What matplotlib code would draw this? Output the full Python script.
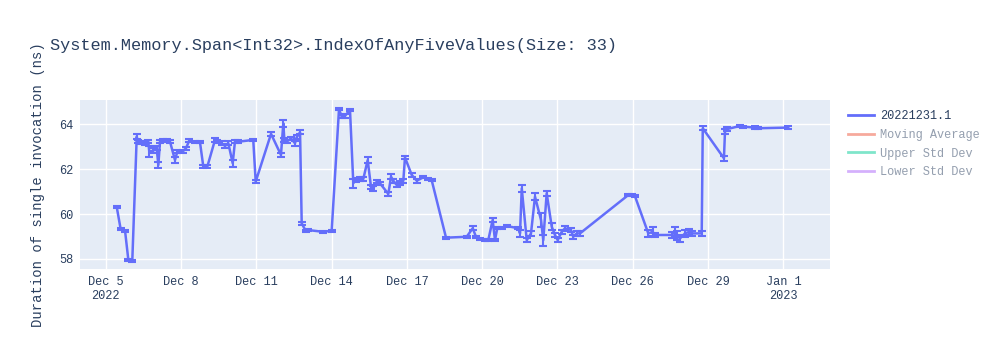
import numpy as np
import pandas as pd
import matplotlib
matplotlib.use("Agg")
import matplotlib.pyplot as plt
from matplotlib.lines import Line2D

plt.rcParams['font.family'] = ['Liberation Mono', 'DejaVu Sans Mono']

# benchmark runs
times = [
    "2022-12-05 10:30", "2022-12-05 14:20", "2022-12-05 18:30", "2022-12-05 21:40", "2022-12-06 01:25",
    "2022-12-06 05:40", "2022-12-06 06:35", "2022-12-06 09:30", "2022-12-06 13:35", "2022-12-06 16:45",
    "2022-12-06 17:40", "2022-12-06 21:30", "2022-12-07 00:45", "2022-12-07 02:20", "2022-12-07 03:55",
    "2022-12-07 07:05", "2022-12-07 10:20", "2022-12-07 13:30", "2022-12-07 18:15", "2022-12-07 20:30",
    "2022-12-08 01:35", "2022-12-08 04:45", "2022-12-08 07:55", "2022-12-08 13:25", "2022-12-08 18:10",
    "2022-12-08 21:20", "2022-12-09 01:10", "2022-12-09 08:30", "2022-12-09 10:40", "2022-12-09 14:55",
    "2022-12-09 18:05", "2022-12-09 21:15", "2022-12-10 01:25", "2022-12-10 03:35", "2022-12-10 06:50",
    "2022-12-10 21:05", "2022-12-10 23:25", "2022-12-11 14:05", "2022-12-11 23:35", "2022-12-12 01:50",
    "2022-12-12 02:50", "2022-12-12 05:05", "2022-12-12 09:10", "2022-12-12 13:00", "2022-12-12 14:35",
    "2022-12-12 17:50", "2022-12-12 19:25", "2022-12-12 23:10", "2022-12-13 01:40", "2022-12-13 16:05",
    "2022-12-14 00:05", "2022-12-14 07:05", "2022-12-14 09:40", "2022-12-14 12:50", "2022-12-14 17:35",
    "2022-12-14 20:45", "2022-12-14 23:05", "2022-12-15 03:10", "2022-12-15 06:20", "2022-12-15 10:30",
    "2022-12-15 13:40", "2022-12-15 15:55", "2022-12-15 19:05", "2022-12-15 22:20", "2022-12-16 06:15",
    "2022-12-16 08:50", "2022-12-16 11:00", "2022-12-16 14:15", "2022-12-16 17:25", "2022-12-16 20:35",
    "2022-12-16 22:10", "2022-12-17 04:35", "2022-12-17 09:25", "2022-12-17 15:40", "2022-12-17 20:30",
    "2022-12-17 23:40", "2022-12-18 13:25", "2022-12-19 09:10", "2022-12-19 14:55", "2022-12-19 18:05",
    "2022-12-19 21:55", "2022-12-20 02:40", "2022-12-20 05:50", "2022-12-20 10:00", "2022-12-20 12:15",
    "2022-12-20 14:25", "2022-12-20 18:40", "2022-12-20 23:25", "2022-12-21 10:30", "2022-12-21 12:10",
    "2022-12-21 13:50", "2022-12-21 18:35", "2022-12-21 22:40", "2022-12-22 02:30", "2022-12-22 08:15",
    "2022-12-22 10:25", "2022-12-22 13:40", "2022-12-22 18:30", "2022-12-22 21:35", "2022-12-23 00:10",
    "2022-12-23 04:00", "2022-12-23 07:10", "2022-12-23 12:55", "2022-12-23 15:05", "2022-12-23 18:25",
    "2022-12-23 21:30", "2022-12-25 19:40", "2022-12-25 23:00", "2022-12-26 02:05", "2022-12-26 14:50",
    "2022-12-26 19:00", "2022-12-26 21:20", "2022-12-27 13:10", "2022-12-27 16:25", "2022-12-27 18:00",
    "2022-12-27 21:10", "2022-12-28 01:55", "2022-12-28 06:00", "2022-12-28 08:20", "2022-12-28 17:55",
    "2022-12-28 18:55", "2022-12-29 15:10", "2022-12-29 16:10", "2022-12-29 17:50", "2022-12-30 06:30",
    "2022-12-30 09:40", "2022-12-30 20:55", "2022-12-31 00:00", "2023-01-01 04:40",
]
durations = [
    60.33, 59.32, 59.25, 57.95, 57.92,
    63.46, 63.23, 63.19, 63.16, 63.23,
    62.79, 62.83, 62.94, 62.19, 63.23,
    63.28, 63.28, 63.23, 62.41, 62.79,
    62.79, 62.94, 63.28, 63.20, 63.20,
    62.12, 62.12, 63.31, 63.23, 63.16,
    63.04, 63.16, 62.27, 63.23, 63.23,
    63.31, 61.45, 63.58, 62.64, 64.05,
    63.31, 63.23, 63.38, 63.16, 63.43,
    63.65, 59.59, 59.26, 59.29, 59.21,
    59.26, 64.68, 64.35, 64.38, 64.65,
    61.38, 61.52, 61.57, 61.57, 62.41,
    61.22, 61.15, 61.45, 61.37, 60.90,
    61.67, 61.49, 61.30, 61.40, 61.49,
    62.53, 61.75, 61.49, 61.64, 61.57,
    61.52, 58.95, 58.99, 59.37, 58.99,
    58.88, 58.84, 58.84, 59.74, 58.84,
    59.37, 59.37, 59.47, 59.37, 59.14,
    61.15, 58.84, 59.14, 60.78, 59.74,
    58.84, 60.93, 59.44, 59.07, 58.84,
    59.21, 59.37, 59.29, 58.99, 59.14,
    59.14, 60.85, 60.85, 60.80, 59.14,
    59.21, 59.07, 59.07, 59.21, 59.03,
    58.92, 59.14, 59.21, 59.14, 59.14,
    63.83, 62.49, 63.68, 63.79, 63.93,
    63.90, 63.86, 63.83, 63.86,
]
errors = [
    0.05, 0.05, 0.05, 0.05, 0.05,
    0.10, 0.08, 0.08, 0.08, 0.08,
    0.25, 0.10, 0.08, 0.12, 0.08,
    0.06, 0.06, 0.06, 0.12, 0.06,
    0.06, 0.06, 0.05, 0.05, 0.05,
    0.08, 0.08, 0.08, 0.08, 0.08,
    0.10, 0.08, 0.15, 0.08, 0.08,
    0.06, 0.08, 0.08, 0.08, 0.15,
    0.10, 0.08, 0.08, 0.10, 0.10,
    0.08, 0.08, 0.05, 0.05, 0.05,
    0.05, 0.05, 0.08, 0.08, 0.05,
    0.20, 0.10, 0.08, 0.08, 0.12,
    0.10, 0.10, 0.08, 0.08, 0.10,
    0.10, 0.08, 0.10, 0.08, 0.08,
    0.08, 0.08, 0.08, 0.05, 0.05,
    0.05, 0.05, 0.05, 0.10, 0.05,
    0.05, 0.05, 0.05, 0.08, 0.05,
    0.05, 0.05, 0.05, 0.05, 0.15,
    0.15, 0.10, 0.10, 0.15, 0.30,
    0.25, 0.12, 0.15, 0.10, 0.10,
    0.10, 0.12, 0.10, 0.10, 0.10,
    0.10, 0.05, 0.05, 0.05, 0.15,
    0.20, 0.10, 0.15, 0.20, 0.20,
    0.15, 0.15, 0.12, 0.10, 0.12,
    0.10, 0.10, 0.10, 0.08, 0.05,
    0.05, 0.05, 0.05, 0.05,
]

tick_dates = ["2022-12-05", "2022-12-08", "2022-12-11", "2022-12-14", "2022-12-17",
              "2022-12-20", "2022-12-23", "2022-12-26", "2022-12-29", "2023-01-01"]
tick_labels = ["Dec 5\n2022", "Dec 8", "Dec 11", "Dec 14", "Dec 17",
               "Dec 20", "Dec 23", "Dec 26", "Dec 29", "Jan 1\n2023"]
y_ticks = [58, 60, 62, 64]

legend_names = ["20221231.1", "Moving Average", "Upper Std Dev", "Lower Std Dev"]
legend_colors = ["#636EFA", "#EF553B", "#00CC96", "#AB63FA"]

txt = "#2a3f5f"
x = pd.to_datetime(times)

fig = plt.figure(figsize=(10, 3.5), dpi=100)
ax = fig.add_axes([0.08, 0.2306, 0.75, 0.4837])
ax.set_facecolor("#E5ECF6")
ax.errorbar(x, durations, yerr=errors, color="#636EFA", lw=1.8, elinewidth=1.5,
            capsize=3, capthick=1.5, zorder=3)

ax.set_xlim(pd.Timestamp("2022-12-03 23:25"), pd.Timestamp("2023-01-02 20:35"))
ax.set_ylim(57.54, 65.09)
ax.set_xticks(pd.to_datetime(tick_dates))
ax.set_xticklabels(tick_labels)
ax.set_yticks(y_ticks)
ax.set_yticklabels([str(t) for t in y_ticks])
ax.grid(True, color="white", lw=1)
ax.set_axisbelow(True)
for s in ax.spines.values():
    s.set_visible(False)
ax.tick_params(length=0, labelsize=8.6, labelcolor=txt, pad=5)

ax.set_ylabel("Duration of single invocation (ns)", fontsize=10, color=txt, labelpad=10)
fig.text(0.05, 0.87, "System.Memory.Span<Int32>.IndexOfAnyFiveValues(Size: 33)",
         fontsize=12.2, color=txt, va="center", ha="left")

handles = []
for i, (n, c) in enumerate(zip(legend_names, legend_colors)):
    handles.append(Line2D([0], [0], color=c, lw=2, alpha=1.0 if i == 0 else 0.5))
leg = fig.legend(handles, legend_names, loc="upper left", bbox_to_anchor=(0.843, 0.698),
                 frameon=False, fontsize=8.6, handlelength=2.2, handletextpad=0.5,
                 labelspacing=0.55, borderaxespad=0)
for i, t in enumerate(leg.get_texts()):
    t.set_color(txt)
    if i > 0:
        t.set_alpha(0.5)

fig.savefig("out.png", dpi=100)
